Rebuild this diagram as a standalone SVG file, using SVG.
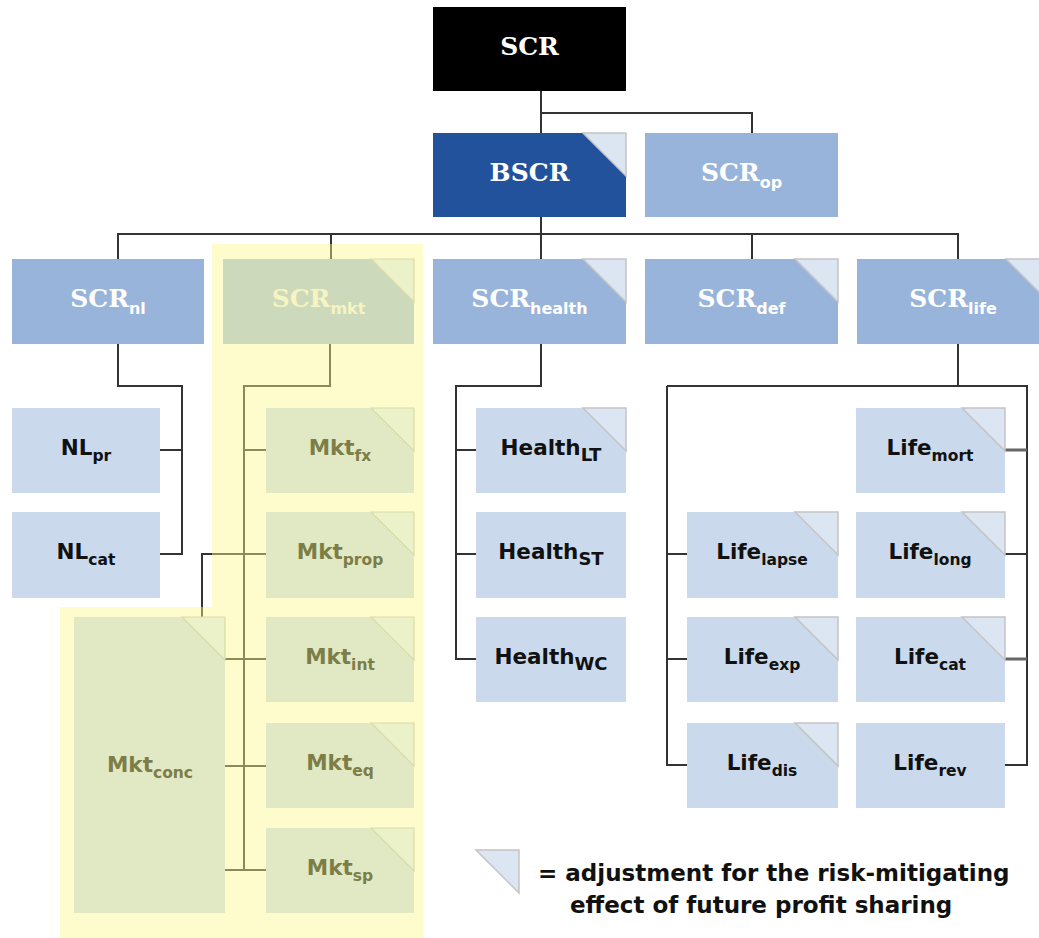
<svg xmlns="http://www.w3.org/2000/svg" width="1039" height="938" viewBox="0 0 1039 938">
<defs>
<style>
.blk{fill:#000}
.dk{fill:#22529b}
.mid{fill:#98b4da}
.lt{fill:#cadaec}
.mk{fill:#ccd9bb}
.mks{fill:#e1e9c4}
.tri{fill:#dce6f2;stroke:#c4c4c4;stroke-width:1.5}
.trim{fill:#ebf1c9;stroke:#d9dca8;stroke-width:1.2}
.ser{font-family:"DejaVu Serif","Liberation Serif",serif;font-weight:bold;font-size:25px;fill:#fff}
.sans{font-family:"DejaVu Sans","Liberation Sans",sans-serif;font-weight:bold}
.lab{font-family:"DejaVu Sans","Liberation Sans",sans-serif;font-weight:bold;font-size:21.5px;fill:#111}
.mlab{font-family:"DejaVu Sans","Liberation Sans",sans-serif;font-weight:bold;font-size:21.5px;fill:#7d7d48}
.sub{font-size:15.5px}
.ssub{font-family:"DejaVu Sans","Liberation Sans",sans-serif;font-weight:bold;font-size:16px}
.c{fill:none;stroke:#333;stroke-width:2}
.co{fill:none;stroke:#8c8a56;stroke-width:2}
.cg{fill:none;stroke:#666;stroke-width:3}
</style>
</defs>
<rect id="hl1" x="212" y="244" width="211" height="694" fill="#fefccd"/>
<rect id="hl2" x="60" y="607" width="152" height="331" fill="#fefccd"/>
<g id="connectors">
<path class="c" d="M541,91 V133 M541,113 H752 V133"/>
<path class="c" d="M541,217 V259 M118,259 V234 H958 V259 M752,234 V259 M331,234 V244"/>
<path class="co" d="M331,244 V259"/>
<path class="c" d="M118,344 V386 H182 V554 H160 M160,450 H182"/>
<path class="co" d="M330,344 V386 H244 V870 M244,450 H266 M212,554 H266 M225,659 H266 M225,766 H266 M225,870 H266"/>
<path class="c" d="M212,554 H202 V607"/>
<path class="co" d="M202,607 V617"/>
<path class="c" d="M541,344 V386 H456 V659 H476 M456,450 H476 M456,554 H476"/>
<path class="c" d="M958,344 V386 M667,386 H1027 V765 H1005 M667,386 V765 H687 M667,554 H687 M667,659 H687 M1005,554 H1027"/>
<path class="cg" d="M1005,450 H1027 M1005,659 H1027"/>
</g>
<g id="n-scr"><rect class="blk" x="433" y="7" width="193" height="84"/><text class="ser" x="529.5" y="55" text-anchor="middle">SCR</text></g>
<g id="n-bscr"><rect class="dk" x="433" y="133" width="193" height="84"/><polygon class="tri" points="583,133 626,133 626,176"/><text class="ser" x="529.5" y="181" text-anchor="middle">BSCR</text></g>
<g id="n-scrop"><rect class="mid" x="645" y="133" width="193" height="84"/><text class="ser" x="741.5" y="181" text-anchor="middle">SCR<tspan class="ssub" dy="7">op</tspan></text></g>
<g id="n-scrnl"><rect class="mid" x="12" y="259" width="192" height="85"/><text class="ser" x="108" y="307" text-anchor="middle">SCR<tspan class="ssub" dy="7">nl</tspan></text></g>
<g id="n-scrmkt"><rect class="mk" x="223" y="259" width="191" height="85"/><polygon class="trim" points="371,259 414,259 414,302"/><text class="ser" x="318.5" y="307" text-anchor="middle" style="fill:#f6f4c2">SCR<tspan class="ssub" dy="7">mkt</tspan></text></g>
<g id="n-scrhealth"><rect class="mid" x="433" y="259" width="193" height="85"/><polygon class="tri" points="583,259 626,259 626,302"/><text class="ser" x="529.5" y="307" text-anchor="middle">SCR<tspan class="ssub" dy="7">health</tspan></text></g>
<g id="n-scrdef"><rect class="mid" x="645" y="259" width="193" height="85"/><polygon class="tri" points="795,259 838,259 838,302"/><text class="ser" x="741.5" y="307" text-anchor="middle">SCR<tspan class="ssub" dy="7">def</tspan></text></g>
<g id="n-scrlife"><rect class="mid" x="857" y="259" width="192" height="85"/><polygon class="tri" points="1006,259 1049,259 1049,302"/><text class="ser" x="953" y="307" text-anchor="middle">SCR<tspan class="ssub" dy="7">life</tspan></text></g>
<g id="n-nlpr"><rect class="lt" x="12" y="408" width="148" height="85"/><text class="lab" x="86" y="455" text-anchor="middle">NL<tspan class="sub" dy="6">pr</tspan></text></g>
<g id="n-nlcat"><rect class="lt" x="12" y="512" width="148" height="86"/><text class="lab" x="86" y="559" text-anchor="middle">NL<tspan class="sub" dy="6">cat</tspan></text></g>
<g id="n-mktfx"><rect class="mks" x="266" y="408" width="148" height="85"/><polygon class="trim" points="371,408 414,408 414,451"/><text class="mlab" x="340" y="455" text-anchor="middle">Mkt<tspan class="sub" dy="6">fx</tspan></text></g>
<g id="n-mktprop"><rect class="mks" x="266" y="512" width="148" height="86"/><polygon class="trim" points="371,512 414,512 414,555"/><text class="mlab" x="340" y="559" text-anchor="middle">Mkt<tspan class="sub" dy="6">prop</tspan></text></g>
<g id="n-mktint"><rect class="mks" x="266" y="617" width="148" height="85"/><polygon class="trim" points="371,617 414,617 414,660"/><text class="mlab" x="340" y="664" text-anchor="middle">Mkt<tspan class="sub" dy="6">int</tspan></text></g>
<g id="n-mkteq"><rect class="mks" x="266" y="723" width="148" height="85"/><polygon class="trim" points="371,723 414,723 414,766"/><text class="mlab" x="340" y="770" text-anchor="middle">Mkt<tspan class="sub" dy="6">eq</tspan></text></g>
<g id="n-mktsp"><rect class="mks" x="266" y="828" width="148" height="85"/><polygon class="trim" points="371,828 414,828 414,871"/><text class="mlab" x="340" y="875" text-anchor="middle">Mkt<tspan class="sub" dy="6">sp</tspan></text></g>
<g id="n-mktconc"><rect class="mks" x="74" y="617" width="151" height="296"/><polygon class="trim" points="182,617 225,617 225,660"/><text class="mlab" x="150" y="772" text-anchor="middle">Mkt<tspan class="sub" dy="6">conc</tspan></text></g>
<g id="n-hlt"><rect class="lt" x="476" y="408" width="150" height="85"/><polygon class="tri" points="583,408 626,408 626,451"/><text class="lab" x="551" y="455" text-anchor="middle">Health<tspan class="sub" dy="6" style="font-size:18px">LT</tspan></text></g>
<g id="n-hst"><rect class="lt" x="476" y="512" width="150" height="86"/><text class="lab" x="551" y="559" text-anchor="middle">Health<tspan class="sub" dy="6" style="font-size:18px">ST</tspan></text></g>
<g id="n-hwc"><rect class="lt" x="476" y="617" width="150" height="85"/><text class="lab" x="551" y="664" text-anchor="middle">Health<tspan class="sub" dy="6" style="font-size:18px">WC</tspan></text></g>
<g id="n-lmort"><rect class="lt" x="856" y="408" width="149" height="85"/><polygon class="tri" points="962,408 1005,408 1005,451"/><text class="lab" x="930" y="455" text-anchor="middle">Life<tspan class="sub" dy="6">mort</tspan></text></g>
<g id="n-llapse"><rect class="lt" x="687" y="512" width="151" height="86"/><polygon class="tri" points="795,512 838,512 838,555"/><text class="lab" x="762" y="559" text-anchor="middle">Life<tspan class="sub" dy="6">lapse</tspan></text></g>
<g id="n-llong"><rect class="lt" x="856" y="512" width="149" height="86"/><polygon class="tri" points="962,512 1005,512 1005,555"/><text class="lab" x="930" y="559" text-anchor="middle">Life<tspan class="sub" dy="6">long</tspan></text></g>
<g id="n-lexp"><rect class="lt" x="687" y="617" width="151" height="85"/><polygon class="tri" points="795,617 838,617 838,660"/><text class="lab" x="762" y="664" text-anchor="middle">Life<tspan class="sub" dy="6">exp</tspan></text></g>
<g id="n-lcat"><rect class="lt" x="856" y="617" width="149" height="85"/><polygon class="tri" points="962,617 1005,617 1005,660"/><text class="lab" x="930" y="664" text-anchor="middle">Life<tspan class="sub" dy="6">cat</tspan></text></g>
<g id="n-ldis"><rect class="lt" x="687" y="723" width="151" height="85"/><polygon class="tri" points="795,723 838,723 838,766"/><text class="lab" x="762" y="770" text-anchor="middle">Life<tspan class="sub" dy="6">dis</tspan></text></g>
<g id="n-lrev"><rect class="lt" x="856" y="723" width="149" height="85"/><text class="lab" x="930" y="770" text-anchor="middle">Life<tspan class="sub" dy="6">rev</tspan></text></g>
<g id="legend">
<polygon class="tri" points="476,850 519,850 519,893"/>
<text class="sans" font-size="23" fill="#111" x="538" y="881">= adjustment for the risk-mitigating</text>
<text class="sans" font-size="23" fill="#111" x="570" y="913">effect of future profit sharing</text>
</g>
</svg>
